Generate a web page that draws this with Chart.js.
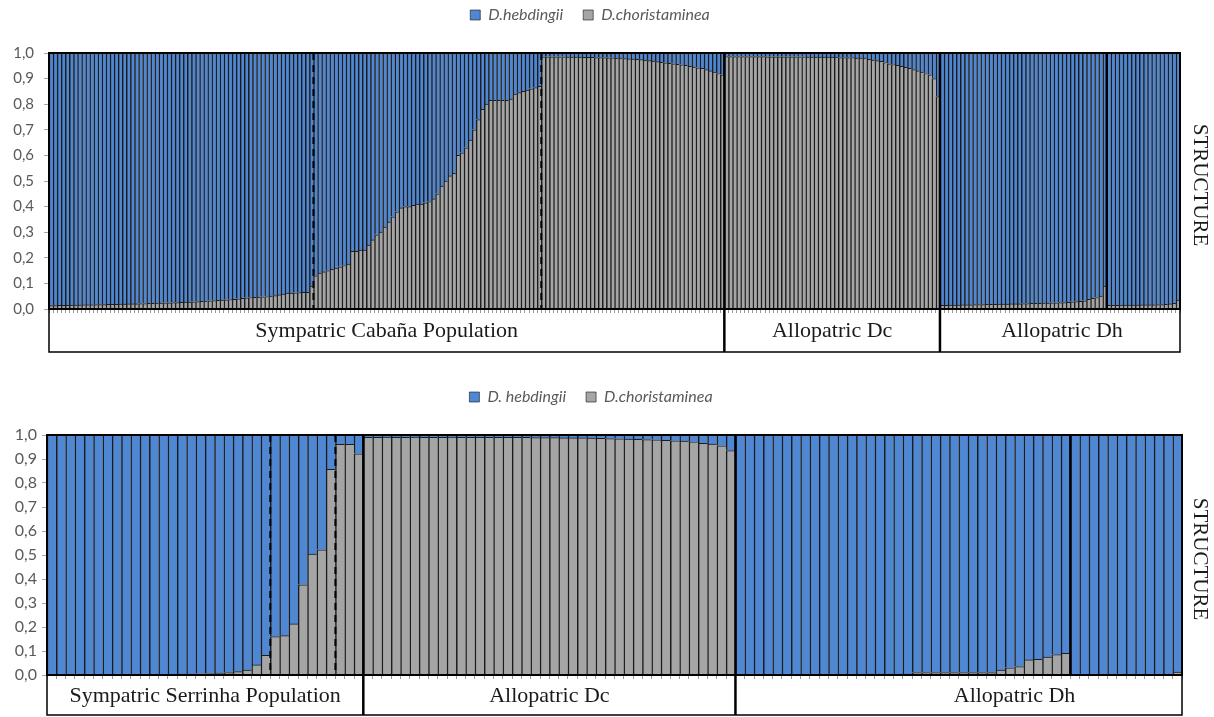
<!DOCTYPE html>
<html lang="en">
<head>
<meta charset="UTF-8">
<title>STRUCTURE</title>
<style>
    body {
        margin: 0;
        background: #fff;
        width: 1214px;
        height: 717px;
        overflow: hidden;
        position: relative;
    }
    canvas { position: absolute; left: 0; }
    #topChart { top: 0; }
    #bottomChart { top: 375px; }
</style>
<script src="https://cdn.jsdelivr.net/npm/chart.js"></script>
</head>
<body>
<canvas id="topChart" width="1214" height="360"></canvas>
<canvas id="bottomChart" width="1214" height="342"></canvas>
<script>
// q = ancestry proportion assigned to D.choristaminea (gray); D.hebdingii gets 1 - q

// ---- top panel (Cabaña) ----
const topLegend = ['D.hebdingii', 'D.choristaminea'];
const topGroups = ['Sympatric Cabaña Population', 'Allopatric Dc', 'Allopatric Dh'];
const topCabana = [
    0.013, 0.013, 0.014, 0.014, 0.014, 0.015, 0.015, 0.015, 0.016, 0.016,
    0.016, 0.017, 0.017, 0.017, 0.018, 0.018, 0.018, 0.019, 0.019, 0.020,
    0.020, 0.020, 0.021, 0.021, 0.022, 0.022, 0.023, 0.023, 0.024, 0.024,
    0.025, 0.025, 0.026, 0.027, 0.027, 0.028, 0.029, 0.030, 0.031, 0.032,
    0.033, 0.034, 0.035, 0.036, 0.037, 0.038, 0.040, 0.042, 0.044, 0.045,
    0.046, 0.047, 0.048, 0.049, 0.050, 0.052, 0.055, 0.058, 0.062, 0.062,
    0.063, 0.064, 0.065, 0.065, 0.090,
    0.130, 0.140, 0.145, 0.150, 0.155, 0.160, 0.165, 0.170, 0.175,
    0.225, 0.225, 0.230, 0.230, 0.250, 0.270, 0.290, 0.300,
    0.320, 0.340, 0.360, 0.380, 0.395, 0.400, 0.400, 0.405, 0.410, 0.410,
    0.415, 0.420, 0.430, 0.450, 0.480, 0.500, 0.520, 0.530,
    0.600, 0.610, 0.630, 0.660, 0.700, 0.740, 0.780, 0.800,
    0.815, 0.815, 0.815, 0.815, 0.815, 0.820, 0.840, 0.845, 0.850, 0.855,
    0.860, 0.865, 0.870,
    0.985, 0.985, 0.985, 0.985, 0.985, 0.985, 0.984, 0.984, 0.984, 0.984,
    0.983, 0.983, 0.983, 0.982, 0.982, 0.982, 0.981, 0.981, 0.980, 0.980,
    0.978, 0.977, 0.976, 0.975, 0.974, 0.972, 0.970, 0.968,
    0.966, 0.964, 0.962, 0.960, 0.958, 0.956, 0.954, 0.952,
    0.948, 0.945, 0.942, 0.940, 0.935, 0.930, 0.925, 0.920, 0.915
];
const topDc = [
    0.986, 0.986, 0.986, 0.986, 0.986, 0.986, 0.986, 0.986, 0.986, 0.986,
    0.985, 0.985, 0.985, 0.985, 0.985, 0.985, 0.985, 0.985, 0.985, 0.985,
    0.984, 0.984, 0.984, 0.984, 0.984, 0.984, 0.984, 0.984,
    0.982, 0.982, 0.982, 0.982, 0.980, 0.980, 0.980,
    0.975, 0.972, 0.970, 0.967, 0.963, 0.958, 0.955, 0.952, 0.948, 0.944,
    0.940, 0.935, 0.930, 0.925, 0.920, 0.915, 0.900, 0.830
];
const topDh = [
    0.014, 0.014, 0.015, 0.015, 0.015, 0.016, 0.016, 0.016, 0.017, 0.017,
    0.017, 0.018, 0.018, 0.018, 0.019, 0.019, 0.019, 0.020, 0.020, 0.020,
    0.021, 0.021, 0.022, 0.022, 0.022, 0.023, 0.023, 0.024, 0.024, 0.025,
    0.025, 0.026, 0.028, 0.029, 0.030, 0.032, 0.038, 0.042, 0.045, 0.050,
    0.090,
    0.014, 0.014, 0.014, 0.015, 0.015, 0.015, 0.015, 0.015, 0.016, 0.016,
    0.016, 0.016, 0.017, 0.017, 0.018, 0.020, 0.022, 0.035
];
const topDashed = [65, 121];     // hybrid zone limits inside the sympatric group
const topSplit = [260];          // split between the two Dh localities
const topLabelAt = [82.5, 192, 248.5];

// ---- bottom panel (Serrinha) ----
const bottomLegend = ['D. hebdingii', 'D.choristaminea'];
const bottomGroups = ['Sympatric Serrinha Population', 'Allopatric Dc', 'Allopatric Dh'];
const bottomSerrinha = [
    0.002, 0.002, 0.002, 0.002, 0.002, 0.002, 0.002, 0.002, 0.002, 0.002,
    0.002, 0.003, 0.003, 0.003, 0.004, 0.004, 0.005, 0.006, 0.008, 0.010,
    0.014, 0.020, 0.042, 0.082,
    0.160, 0.164, 0.213, 0.376, 0.504, 0.522, 0.857,
    0.961, 0.961, 0.922
];
const bottomDc = [
    0.990, 0.990, 0.991, 0.990, 0.990, 0.991, 0.990, 0.990, 0.990, 0.991,
    0.990, 0.990, 0.990, 0.990, 0.990, 0.990, 0.990, 0.990, 0.989, 0.989,
    0.989, 0.988, 0.988, 0.988, 0.987, 0.986, 0.985, 0.984, 0.983, 0.982,
    0.981, 0.980, 0.978, 0.976, 0.975, 0.972, 0.965, 0.962, 0.955, 0.935
];
const bottomDh = [
    0.001, 0.001, 0.001, 0.001, 0.001, 0.001, 0.001, 0.001, 0.001, 0.001,
    0.001, 0.001, 0.001, 0.004, 0.004, 0.004, 0.004, 0.004, 0.004, 0.010,
    0.010, 0.010, 0.010, 0.010, 0.010, 0.010, 0.010, 0.010, 0.020, 0.030,
    0.035, 0.063, 0.065, 0.075, 0.085, 0.090,
    0.002, 0.002, 0.002, 0.002, 0.002, 0.002, 0.002, 0.002, 0.002, 0.002,
    0.003, 0.012
];
const bottomDashed = [24, 31];
const bottomSplit = [110];
const bottomLabelAt = [16.5, 53.5, 103.5];

const yTickValues = [0, 0.1, 0.2, 0.3, 0.4, 0.5, 0.6, 0.7, 0.8, 0.9, 1.0];

const blueFill = '#4f87d2';
const grayFill = '#a5a5a5';
const edgeColor = '#1c1c1c';

// dividers, frames, group label boxes and the side title
const panelPlugin = {
    id: 'panel',
    afterDatasetsDraw(chart, args, opts) {
        const ctx = chart.ctx;
        const a = chart.chartArea;
        const x = chart.scales.x;
        const boxBottom = a.bottom + opts.boxHeight;
        const edge = i => x.getPixelForValue(i - 0.5);
        const line = (px, y0, y1) => {
            ctx.beginPath();
            ctx.moveTo(px, y0);
            ctx.lineTo(px, y1);
            ctx.stroke();
        };
        ctx.save();
        ctx.strokeStyle = '#000';

        ctx.lineWidth = 2;
        ctx.setLineDash([7, 5]);
        opts.dashed.forEach(i => line(edge(i), a.top, a.bottom));
        ctx.setLineDash([]);

        ctx.lineWidth = 2.5;
        opts.split.forEach(i => line(edge(i), a.top, a.bottom));
        let start = 0;
        opts.sizes.forEach((n, k) => {
            start += n;
            if (k < opts.sizes.length - 1) line(edge(start), a.top, boxBottom);
        });

        ctx.lineWidth = 2;
        ctx.strokeRect(a.left, a.top, a.right - a.left, a.bottom - a.top);
        ctx.lineWidth = 1.5;
        ctx.strokeRect(a.left, a.bottom, a.right - a.left, opts.boxHeight);

        ctx.fillStyle = '#1a1a1a';
        ctx.textAlign = 'center';
        ctx.textBaseline = 'middle';
        ctx.font = '22px "Liberation Serif"';
        opts.names.forEach((s, k) => {
            ctx.fillText(s, x.getPixelForValue(opts.labelAt[k]), a.bottom + opts.boxHeight / 2 + 1);
        });

        ctx.translate(opts.sideX, (a.top + a.bottom) / 2 + 4);
        ctx.rotate(Math.PI / 2);
        ctx.font = '21px "Liberation Serif"';
        ctx.fillText('STRUCTURE', 0, 0);
        ctx.restore();
    }
};

function makePanel(canvasId, groups, legend, cfg) {
    const q = [].concat(...groups);
    const labels = q.map((v, i) => String(i + 1));
    const heb = q.map(v => Math.round((1 - v) * 1000) / 1000);
    const bw = { left: cfg.edge, top: 1, right: 0, bottom: 0 };
    return new Chart(document.getElementById(canvasId), {
        type: 'bar',
        data: {
            labels: labels,
            datasets: [
                { label: legend[1], data: q, backgroundColor: grayFill, borderColor: edgeColor, borderWidth: bw },
                { label: legend[0], data: heb, backgroundColor: blueFill, borderColor: edgeColor, borderWidth: bw }
            ]
        },
        options: {
            responsive: false,
            animation: false,
            devicePixelRatio: 1,
            datasets: { bar: { categoryPercentage: 1, barPercentage: 1 } },
            layout: { padding: { top: cfg.padTop, right: cfg.padRight, bottom: cfg.padBottom, left: 0 } },
            plugins: {
                legend: {
                    reverse: true,
                    weight: 3000,
                    labels: {
                        boxWidth: 10,
                        boxHeight: 10,
                        padding: 20,
                        color: '#595959',
                        font: { family: 'Lato', size: 16, style: 'italic' }
                    }
                },
                title: { display: true, text: '', weight: 500, padding: { top: 4, bottom: 4 }, font: { size: 10 } },
                tooltip: { enabled: false },
                panel: {
                    sizes: groups.map(g => g.length),
                    names: cfg.names,
                    labelAt: cfg.labelAt,
                    dashed: cfg.dashed,
                    split: cfg.split,
                    boxHeight: cfg.boxHeight,
                    sideX: 1200
                }
            },
            scales: {
                x: {
                    stacked: true,
                    ticks: { display: false },
                    grid: { drawOnChartArea: false, tickLength: 4, color: '#9a9a9a' },
                    border: { display: false },
                    afterFit: s => { s.height = cfg.boxHeight; }
                },
                y: {
                    stacked: true,
                    min: 0,
                    max: 1,
                    afterBuildTicks: s => { s.ticks = yTickValues.map(v => ({ value: v })); },
                    ticks: {
                        color: '#595959',
                        padding: cfg.tickPad,
                        font: { family: 'Lato', size: cfg.tickSize },
                        callback: v => v.toFixed(1).replace('.', ',')
                    },
                    grid: { drawOnChartArea: false, tickLength: 5, color: '#a6a6a6' },
                    border: { display: false },
                    afterFit: s => { s.width = cfg.left; }
                }
            }
        },
        plugins: [panelPlugin]
    });
}

makePanel('topChart', [topCabana, topDc, topDh], topLegend, {
    names: topGroups, labelAt: topLabelAt, dashed: topDashed, split: topSplit, edge: 1.5,
    padTop: -13, padRight: 34, padBottom: 8, left: 49, boxHeight: 43, tickPad: 10, tickSize: 15
});

makePanel('bottomChart', [bottomSerrinha, bottomDc, bottomDh], bottomLegend, {
    names: bottomGroups, labelAt: bottomLabelAt, dashed: bottomDashed, split: bottomSplit, edge: 1.5,
    padTop: -6, padRight: 32, padBottom: 2, left: 47, boxHeight: 40, tickPad: 5, tickSize: 16
});
</script>
</body>
</html>
